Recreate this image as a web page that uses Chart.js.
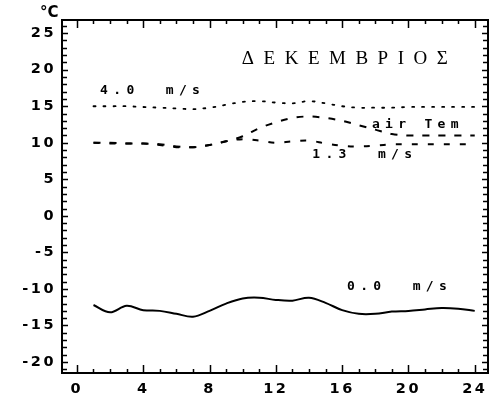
<!DOCTYPE html>
<html><head><meta charset="utf-8">
<script src="https://cdn.jsdelivr.net/npm/chart.js@4/dist/chart.umd.min.js"></script>
<style>html,body{margin:0;padding:0;background:#fff;}</style>
</head><body>
<canvas id="c" width="496" height="405"></canvas>
<script>
// ---- data (hour of day, °C) ----
const hours   = [1,2,3,4,5,6,7,8,9,10,11,12,13,14,15,16,17,18,19,20,21,22,23,24];
const wind40  = [15.0,15.0,15.0,14.9,14.8,14.7,14.6,14.8,15.2,15.6,15.7,15.5,15.4,15.7,15.4,15.0,14.8,14.8,14.8,14.9,14.9,14.9,14.9,14.9];
const airTemp = [10.0,10.0,9.9,9.9,9.8,9.5,9.4,9.7,10.2,10.9,12.0,12.8,13.4,13.6,13.4,13.0,12.4,11.8,11.2,11.0,11.0,11.0,11.0,11.0];
const wind13  = [10.0,9.9,9.9,9.9,9.7,9.4,9.4,9.7,10.2,10.5,10.3,10.0,10.2,10.3,9.9,9.6,9.5,9.6,9.8,9.8,9.8,9.8,9.8,9.8];
const wind00  = [-12.2,-13.2,-12.3,-12.9,-13.0,-13.4,-13.8,-13.0,-12.0,-11.3,-11.2,-11.5,-11.6,-11.2,-11.9,-12.9,-13.4,-13.4,-13.1,-13.0,-12.8,-12.6,-12.7,-13.0];
const xTicks  = [0,4,8,12,16,20,24];
const yTicks  = [-20,-15,-10,-5,0,5,10,15,20,25];
const title   = 'ΔΕΚΕΜΒΡΙΟΣ';
const unit    = '°C';
const seriesLabels = ['4.0  m/s','air Tem','1.3  m/s','0.0  m/s'];
// label anchors in data coordinates (hour, °C)
const labelHours = [1.4, 17.8, 14.2, 16.3];
const labelTemps = [17.1, 12.5, 8.4, -9.65];

const pts = arr => hours.map((h,i)=>({x:h,y:arr[i]}));

const decor = {
  id:'decor',
  beforeDraw(chart){ chart.ctx.letterSpacing = '2.5px'; },
  afterDraw(chart){
    const {ctx, chartArea:a, scales:{x,y}} = chart;
    ctx.save();
    ctx.letterSpacing = '0px';
    ctx.strokeStyle = '#000';
    ctx.lineWidth = 2;
    ctx.strokeRect(a.left, a.top, a.right-a.left, a.bottom-a.top);
    ctx.lineWidth = 1.5;
    ctx.beginPath();
    for (let v=Math.ceil(y.min); v<=Math.floor(y.max); v++){
      const py = Math.round(y.getPixelForValue(v))+0.5;
      const len = v%5===0 ? 6 : 5;
      ctx.moveTo(a.left, py); ctx.lineTo(a.left+len, py);
      ctx.moveTo(a.right, py); ctx.lineTo(a.right-len, py);
    }
    for (let v=Math.ceil(x.min); v<=Math.floor(x.max); v++){
      const px = Math.round(x.getPixelForValue(v))+0.5;
      const len = v%4===0 ? 8 : 4;
      ctx.moveTo(px, a.bottom); ctx.lineTo(px, a.bottom-len);
      ctx.moveTo(px, a.top); ctx.lineTo(px, a.top+len);
    }
    ctx.stroke();
    ctx.fillStyle = '#000';
    // unit
    ctx.font = 'bold 15px "DejaVu Sans"';
    ctx.textAlign = 'left'; ctx.textBaseline = 'middle';
    ctx.fillText(unit, a.left-22, a.top-7);
    // title
    ctx.font = '19px "Liberation Serif"';
    ctx.letterSpacing = '9.5px';
    ctx.fillText(title, x.getPixelForValue(9.95), y.getPixelForValue(21.4));
    // series labels
    ctx.font = 'bold 13px "DejaVu Sans Mono"';
    ctx.letterSpacing = '5.3px';
    seriesLabels.forEach((t,i)=>{
      ctx.fillText(t, x.getPixelForValue(labelHours[i]), y.getPixelForValue(labelTemps[i]));
    });
    ctx.restore();
  }
};

const tickFont = {family:'DejaVu Sans', weight:'bold', size:14.5};

new Chart(document.getElementById('c'), {
  type:'line',
  data:{datasets:[
    {data:pts(wind40), borderColor:'#000', borderWidth:1.8, borderDash:[2,8], borderCapStyle:'round'},
    {data:pts(airTemp), borderColor:'#000', borderWidth:2, borderDash:[7,9]},
    {data:pts(wind13), borderColor:'#000', borderWidth:2, borderDash:[6,10]},
    {data:pts(wind00), borderColor:'#000', borderWidth:2}
  ]},
  options:{
    responsive:false, devicePixelRatio:1, animation:false,
    layout:{padding:{left:0,right:8,top:20,bottom:0}},
    plugins:{legend:{display:false}, tooltip:{enabled:false}},
    elements:{point:{radius:0}, line:{tension:0.35, fill:false}},
    scales:{
      x:{type:'linear', min:-0.9, max:24.8,
         grid:{display:false, drawTicks:false}, border:{display:false},
         afterBuildTicks:s=>{ s.ticks = xTicks.map(v=>({value:v})); },
         afterFit:s=>{ s.height = 32; },
         ticks:{font:tickFont, color:'#000', padding:8, maxRotation:0, autoSkip:false}},
      y:{type:'linear', min:-21.5, max:26.8,
         grid:{display:false, drawTicks:false}, border:{display:false},
         afterBuildTicks:s=>{ s.ticks = yTicks.map(v=>({value:v})); },
         afterFit:s=>{ s.width = 62; },
         ticks:{font:tickFont, color:'#000', padding:6, autoSkip:false}}
    }
  },
  plugins:[decor]
});
</script>
</body></html>
